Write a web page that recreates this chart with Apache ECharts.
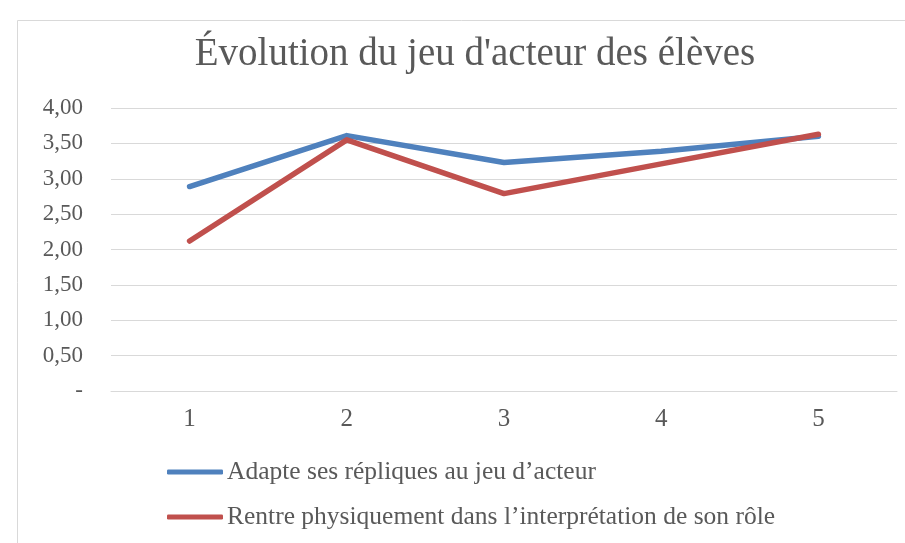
<!DOCTYPE html>
<html><head><meta charset="utf-8">
<script src="https://cdn.jsdelivr.net/npm/echarts@6/dist/echarts.min.js"></script>
<style>html,body{margin:0;padding:0;background:#fff}#c{width:905px;height:543px}</style>
</head><body><div id="c"></div>
<script>
const categories = ['1', '2', '3', '4', '5'];
const seriesNames = ['Adapte ses répliques au jeu d’acteur', 'Rentre physiquement dans l’interprétation de son rôle'];
const blueValues = [2.89, 3.61, 3.23, 3.39, 3.60];
const redValues = [2.12, 3.55, 2.79, 3.21, 3.63];
const yTickLabels = ['-', '0,50', '1,00', '1,50', '2,00', '2,50', '3,00', '3,50', '4,00'];

const FONT = 'Liberation Serif';
const chart = echarts.init(document.getElementById('c'));
chart.setOption({
  animation: false,
  textStyle: { fontFamily: FONT },
  graphic: [{ type: 'rect', shape: { x: 17.5, y: 20.5, width: 900, height: 540 }, style: { fill: 'none', stroke: '#d9d9d9', lineWidth: 1 } }],
  title: {
    text: 'Évolution du jeu d\'acteur des élèves',
    left: 470, top: 30, textAlign: 'center',
    textStyle: { fontFamily: FONT, fontSize: 39, fontWeight: 'normal', color: '#595959' }
  },
  grid: { left: 111, right: 8, top: 108, bottom: 152 },
  xAxis: {
    type: 'category', data: categories, boundaryGap: true,
    axisLine: { show: true, lineStyle: { color: '#d9d9d9', width: 1 } },
    axisTick: { show: false },
    axisLabel: { color: '#595959', fontSize: 25, fontFamily: FONT, margin: 16 }
  },
  yAxis: {
    type: 'value', min: 0, max: 4, interval: 0.5,
    axisLine: { show: false }, axisTick: { show: false },
    splitLine: { lineStyle: { color: '#d9d9d9', width: 1 } },
    axisLabel: { color: '#595959', fontSize: 23, fontFamily: FONT, margin: 28,
      formatter: (v) => yTickLabels[Math.round(v / 0.5)] }
  },
  legend: {
    orient: 'vertical', left: 167, top: 459, itemGap: 19, padding: 0,
    itemWidth: 56, itemHeight: 5, icon: 'roundRect',
    textStyle: { color: '#595959', fontSize: 25.5, fontFamily: FONT, padding: [0, 0, 0, -1] },
    data: seriesNames
  },
  series: [
    { name: seriesNames[0], type: 'line', data: blueValues, showSymbol: false, symbol: 'none',
      lineStyle: { color: '#4F81BD', width: 5.5, cap: 'round', join: 'round' }, itemStyle: { color: '#4F81BD' } },
    { name: seriesNames[1], type: 'line', data: redValues, showSymbol: false, symbol: 'none',
      lineStyle: { color: '#C0504D', width: 5.5, cap: 'round', join: 'round' }, itemStyle: { color: '#C0504D' } }
  ]
});
</script></body></html>
